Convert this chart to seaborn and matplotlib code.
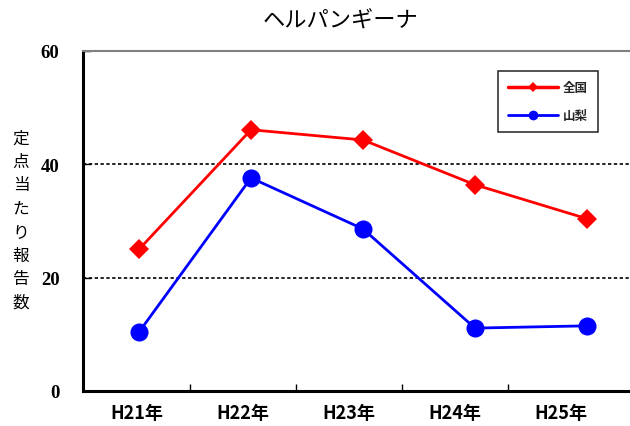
import numpy as np
import pandas as pd
import matplotlib
matplotlib.use("Agg")
import matplotlib.pyplot as plt
import seaborn as sns
from matplotlib.lines import Line2D

sns.set_theme(style="white")
plt.rcParams['font.family'] = ['Noto Sans CJK JP', 'DejaVu Sans']

years = ["H21年", "H22年", "H23年", "H24年", "H25年"]
national = [25.0, 46.1, 44.3, 36.4, 30.4]
yamanashi = [10.4, 37.6, 28.6, 11.1, 11.5]
series_names = ["全国", "山梨"]
yticks = [0, 20, 40, 60]

df = pd.DataFrame({
    "year": years * 2,
    "value": national + yamanashi,
    "region": [series_names[0]] * len(years) + [series_names[1]] * len(years),
})

W, H = 630, 427
fig = plt.figure(figsize=(W / 100, H / 100), dpi=100)
ax = fig.add_axes([83 / W, 35 / H, 560 / W, 340 / H])

colors = {"全国": "#FF0000", "山梨": "#0000FF"}
sns.lineplot(data=df[df.region == "全国"], x="year", y="value", ax=ax, sort=False,
             color=colors["全国"], marker="D", markersize=10, linewidth=2,
             markeredgewidth=0, legend=False)
sns.lineplot(data=df[df.region == "山梨"], x="year", y="value", ax=ax, sort=False,
             color=colors["山梨"], marker="o", markersize=13, linewidth=2,
             markeredgewidth=0, legend=False)

ax.set_xlim(-0.5, 4.5)
ax.set_ylim(0, 60)
ax.set_yticks(yticks)
ax.set_yticklabels([str(v) for v in yticks], family="Liberation Serif",
                   fontsize=13.5, fontweight="bold")
ax.tick_params(axis="y", direction="in", length=6, width=1, pad=17, left=True,
               colors="black")
ax.set_xticks([])
ax.set_xlabel("")
ax.set_ylabel("")

for yv in [20, 40]:
    ax.axhline(yv, color="black", linestyle=(0, (2, 1.5)), linewidth=1.2, zorder=0)

for side in ["left", "bottom"]:
    ax.spines[side].set_color("black")
    ax.spines[side].set_linewidth(2.2)
ax.spines["top"].set_color("#808080")
ax.spines["top"].set_linewidth(1.5)
ax.spines["right"].set_visible(False)

# category label axis
ax2 = ax.twiny()
ax2.set_xlim(-0.509, 4.774)
ax2.set_xticks(range(len(years)))
ax2.set_xticklabels(years, fontsize=13, fontweight="bold")
ax2.set_xticks([0.5, 1.5, 2.5, 3.5], minor=True)
ax2.xaxis.set_ticks_position("bottom")
ax2.tick_params(axis="x", which="major", length=0, pad=9, colors="black")
ax2.tick_params(axis="x", which="minor", direction="in", length=5, width=1,
                bottom=True, colors="black")
for s in ax2.spines.values():
    s.set_visible(False)

fig.text(341 / W, 1 - 21 / H, "ヘルパンギーナ", ha="center", va="center",
         fontsize=16, color="black")

fig.text(21 / W, 1 - 221 / H, "\n".join("定点当たり報告数"), ha="center",
         va="center", fontsize=12, linespacing=1.5, color="black")

handles = [
    Line2D([], [], color=colors["全国"], marker="D", markersize=5, linewidth=2.5,
           markeredgewidth=0),
    Line2D([], [], color=colors["山梨"], marker="o", markersize=7, linewidth=2,
           markeredgewidth=0),
]
leg = ax.legend(handles, series_names, loc="upper left",
                bbox_to_anchor=(498 / W, 1 - 72 / H), bbox_transform=fig.transFigure,
                fontsize=9, frameon=True, fancybox=False, handlelength=4.0,
                borderpad=0.8, labelspacing=1.2, handletextpad=0.4,
                borderaxespad=0)
leg.get_frame().set_edgecolor("black")
leg.get_frame().set_linewidth(1.2)
for t in leg.get_texts():
    t.set_fontweight("bold")

fig.savefig("out.png", dpi=100)
